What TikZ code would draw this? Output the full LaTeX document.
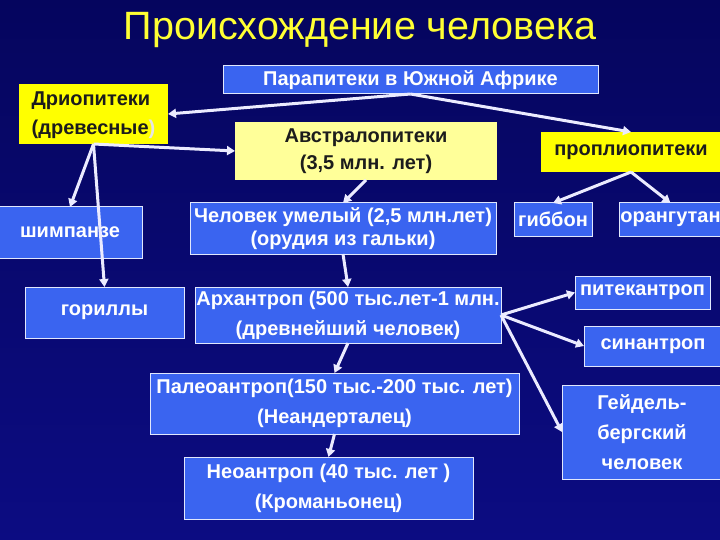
\documentclass[tikz,border=0pt]{standalone}
\usepackage{fontspec}
\setmainfont{Liberation Sans}
\usetikzlibrary{arrows.meta,positioning}
\definecolor{bgtop}{HTML}{05055E}
\definecolor{bgbot}{HTML}{0C0C82}
\definecolor{boxblue}{HTML}{3A64F0}
\definecolor{boxyel}{HTML}{FFFF00}
\definecolor{boxpale}{HTML}{FFFF99}
\definecolor{ttl}{HTML}{FFFF33}
\definecolor{txt}{HTML}{1C1C1C}

\begin{document}
\begin{tikzpicture}[
  x=1pt, y=-1pt,
  >={Triangle[length=8pt,width=9pt]},
  blue/.style={draw=white!85!boxblue, line width=1pt, fill=boxblue, text=white, align=center, inner sep=1pt, outer sep=0pt, font=\fontsize{20}{30}\selectfont\bfseries},
  yel/.style={draw=none, fill=boxyel, text=txt, align=center, inner sep=1pt, outer sep=0pt, font=\fontsize{20}{29}\selectfont\bfseries},
  pale/.style={yel, fill=boxpale, font=\fontsize{20}{27}\selectfont\bfseries},
  arr/.style={->, line width=3pt, color=white!92!blue},
]

\useasboundingbox (0,0) rectangle (720,540);
\shade[top color=bgtop, bottom color=bgbot] (0,0) rectangle (720,540);

\node[text=ttl, font=\fontsize{39.5}{44}\selectfont] (title) at (360,30) {Происхождение человека};

\node[blue, minimum width=375, minimum height=28] (para) at (410.5,80) {Парапитеки в Южной Африке};
\node[yel, minimum width=149, minimum height=52] (drio) at (93.5,114) {\begin{tabular}{@{}l@{}}Дриопитеки\\(древесные{\color{white!80!gray})}\end{tabular}};
\node[pale, minimum width=262, minimum height=58] (austr) at (366,151) {Австралопитеки\\(3,5 млн. лет)};
\node[yel, minimum width=181, minimum height=40] (propl) at (631,152) {проплиопитеки};

\node[blue, minimum width=144, minimum height=51] (chimp) at (70,232.5) {шимпанзе};
\node[blue, minimum width=306, minimum height=51, font=\fontsize{20}{23}\selectfont\bfseries] (habilis) at (343,228.5) {Человек умелый (2,5 млн.лет)\\(орудия из гальки)};
\node[blue, minimum width=78, minimum height=33] (gibbon) at (553,219.5) {гиббон};
\node[blue, minimum width=103, minimum height=33] (orang) at (670.5,219.5) {орангутан};

\node[blue, minimum width=159, minimum height=51] (gorilla) at (104.5,312.5) {гориллы};
\node[blue, minimum width=306, minimum height=56] (archan) at (348,315) {Архантроп (500 тыс.лет-1 млн.\\(древнейший человек)};
\node[blue, minimum width=135, minimum height=33] (pithec) at (642.5,292.5) {питекантроп};
\node[blue, minimum width=138, minimum height=40] (sinan) at (653,346) {синантроп};

\node[blue, minimum width=369, minimum height=61] (paleo) at (334.5,403.5) {Палеоантроп(150 тыс.-200 тыс. лет)\\(Неандерталец)};
\node[blue, minimum width=160, minimum height=94] (heidel) at (642,432) {Гейдель-\\бергский\\человек};
\node[blue, minimum width=289, minimum height=62] (neo) at (328.5,488) {Неоантроп (40 тыс. лет )\\(Кроманьонец)};

\draw[arr] (para.south) -- (drio.east);
\draw[arr] (para.south) -- (propl.north);
\draw[arr] (drio.south) -- (austr.west);
\draw[arr] (drio.south) -- (chimp.north);
\draw[arr] (drio.south) -- (gorilla.north);
\draw[arr] (austr.south) -- (habilis.north);
\draw[arr] (habilis.south) -- (archan.north);
\draw[arr] (archan.south) -- (paleo.north);
\draw[arr] (paleo.south) -- (neo.north);
\draw[arr] (archan.east) -- (pithec.west);
\draw[arr] (archan.east) -- (sinan.west);
\draw[arr] (archan.east) -- (heidel.west);
\draw[arr] (propl.south) -- (gibbon.north);
\draw[arr] (propl.south) -- (orang.north);

\end{tikzpicture}
\end{document}
